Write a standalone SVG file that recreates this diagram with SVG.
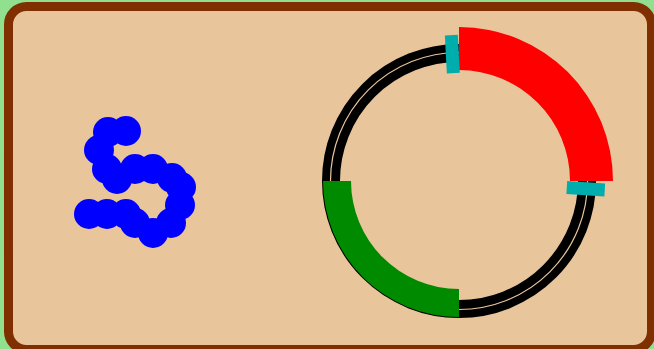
<svg xmlns="http://www.w3.org/2000/svg" width="654" height="349" viewBox="0 0 654 349">
<style>
.dot{fill:#0000ff}
.tab{fill:#00adad}
</style>
<rect x="0" y="0" width="654" height="349" fill="#90e090"/>
<g id="frame">
<rect x="8.5" y="6.5" width="643" height="343" rx="18" ry="18" fill="#e9c59c" stroke="#7f2f00" stroke-width="9"/>
</g>
<g id="snake">
<circle class="dot" cx="108" cy="132" r="15"/>
<circle class="dot" cx="126" cy="131" r="15"/>
<circle class="dot" cx="99" cy="150" r="15"/>
<circle class="dot" cx="107" cy="169" r="15"/>
<circle class="dot" cx="117" cy="179" r="15"/>
<circle class="dot" cx="135" cy="169" r="15"/>
<circle class="dot" cx="153" cy="169" r="15"/>
<circle class="dot" cx="172" cy="178" r="15"/>
<circle class="dot" cx="181" cy="187" r="15"/>
<circle class="dot" cx="180" cy="205" r="15"/>
<circle class="dot" cx="171" cy="223" r="15"/>
<circle class="dot" cx="153" cy="233" r="15"/>
<circle class="dot" cx="135" cy="223" r="15"/>
<circle class="dot" cx="126" cy="214" r="15"/>
<circle class="dot" cx="107" cy="214" r="15"/>
<circle class="dot" cx="89" cy="214" r="15"/>
</g>
<g id="ring">
<circle cx="459" cy="181" r="128" fill="none" stroke="#000" stroke-width="18"/>
<circle cx="459" cy="181" r="128.5" fill="none" stroke="#e9c59c" stroke-width="1.2"/>
</g>
<g id="green-arc">
<path d="M323,181 A136,136 0 0 0 459,317 L459,289 A108,108 0 0 1 351,181 Z" fill="#008a00"/>
</g>
<g id="red-arc">
<path d="M459,27 A154,154 0 0 1 613,181 L570,181 A111,111 0 0 0 459,70 Z" fill="#ff0000"/>
</g>
<g id="tab-top">
<rect class="tab" transform="translate(459,181) rotate(-93)" x="108" y="-6.5" width="38" height="13"/>
</g>
<g id="tab-right">
<rect class="tab" transform="translate(459,181) rotate(3.5)" x="108" y="-6.5" width="38" height="13"/>
</g>
</svg>
